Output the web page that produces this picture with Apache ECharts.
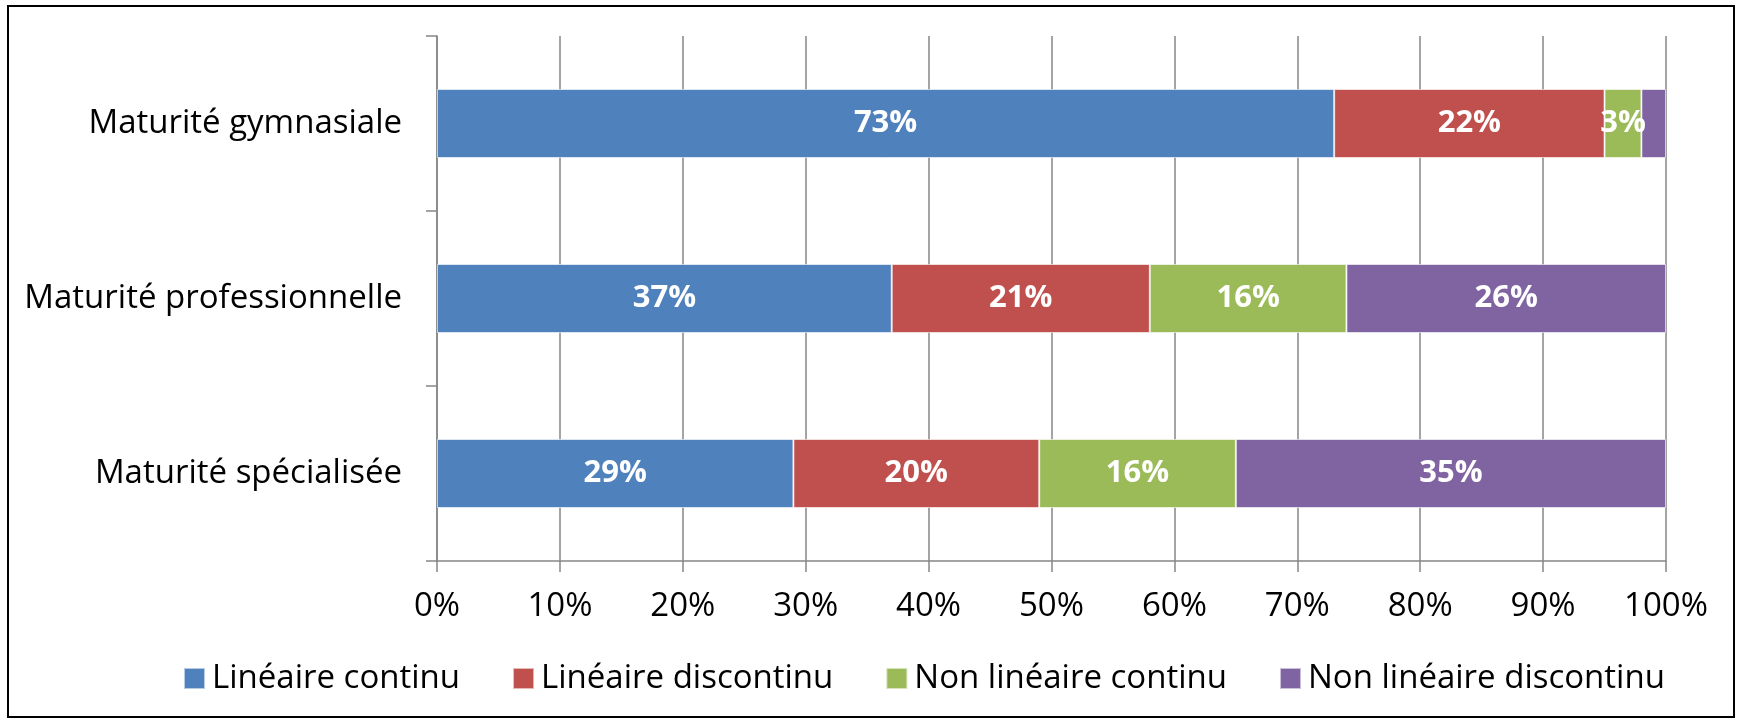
<!DOCTYPE html>
<html><head><meta charset="utf-8">
<script src="https://cdn.jsdelivr.net/npm/echarts@6/dist/echarts.min.js"></script>
<style>html,body{margin:0;padding:0;background:#fff}#c{width:1740px;height:719px}</style>
</head><body><div id="c"></div>
<script>
const categories = ['Maturité gymnasiale', 'Maturité professionnelle', 'Maturité spécialisée'];
const seriesNames = ['Linéaire continu', 'Linéaire discontinu', 'Non linéaire continu', 'Non linéaire discontinu'];
const linContinu = [73, 37, 29];
const linDiscontinu = [22, 21, 20];
const nonLinContinu = [3, 16, 16];
const nonLinDiscontinu = [2, 26, 35];
const xTicks = [0, 10, 20, 30, 40, 50, 60, 70, 80, 90, 100];
const colors = ['#4F81BD', '#C0504D', '#9BBB59', '#8064A2'];
const FONT = 'Open Sans';
const values = [linContinu, linDiscontinu, nonLinContinu, nonLinDiscontinu];

const chart = echarts.init(document.getElementById('c'), null, {renderer: 'canvas'});
chart.setOption({
  animation: false,
  color: colors,
  textStyle: {fontFamily: FONT},
  graphic: [{type: 'rect', shape: {x: 8, y: 6, width: 1726, height: 711}, style: {fill: 'none', stroke: '#000', lineWidth: 2}, silent: true}],
  grid: {left: 437, right: 74, top: 36, bottom: 158, containLabel: false},
  xAxis: {
    type: 'value', min: xTicks[0], max: xTicks[xTicks.length - 1], interval: 10,
    axisLine: {show: true, lineStyle: {color: '#868686', width: 1.5}},
    axisTick: {show: true, length: 11, lineStyle: {color: '#868686', width: 1.5}},
    splitLine: {show: true, lineStyle: {color: '#868686', width: 1.5}},
    axisLabel: {formatter: v => v + '%', color: '#000', fontSize: 33, fontFamily: FONT, margin: 29}
  },
  yAxis: {
    type: 'category', data: categories, inverse: true,
    axisLine: {show: true, lineStyle: {color: '#868686', width: 1.5}},
    axisTick: {show: true, length: 11, lineStyle: {color: '#868686', width: 1.5}},
    axisLabel: {color: '#000', fontSize: 33, fontFamily: FONT, margin: 35}
  },
  legend: {
    data: seriesNames, left: 178, top: 657, itemWidth: 21, itemHeight: 21, itemGap: 52,
    icon: 'rect',
    textStyle: {fontSize: 33, fontFamily: FONT, color: '#000', padding: [0, 0, 0, 2]}
  },
  series: seriesNames.map((n, i) => ({
    name: n, type: 'bar', stack: 'total', barWidth: 69,
    data: values[i],
    itemStyle: {color: colors[i], borderColor: 'rgba(255,255,255,0.6)', borderWidth: 1},
    label: {show: true, position: 'inside', color: '#fff', fontWeight: 'bold', fontSize: 31, fontFamily: FONT,
      formatter: p => p.value >= 3 ? p.value + '%' : ''}
  }))
});
</script></body></html>
